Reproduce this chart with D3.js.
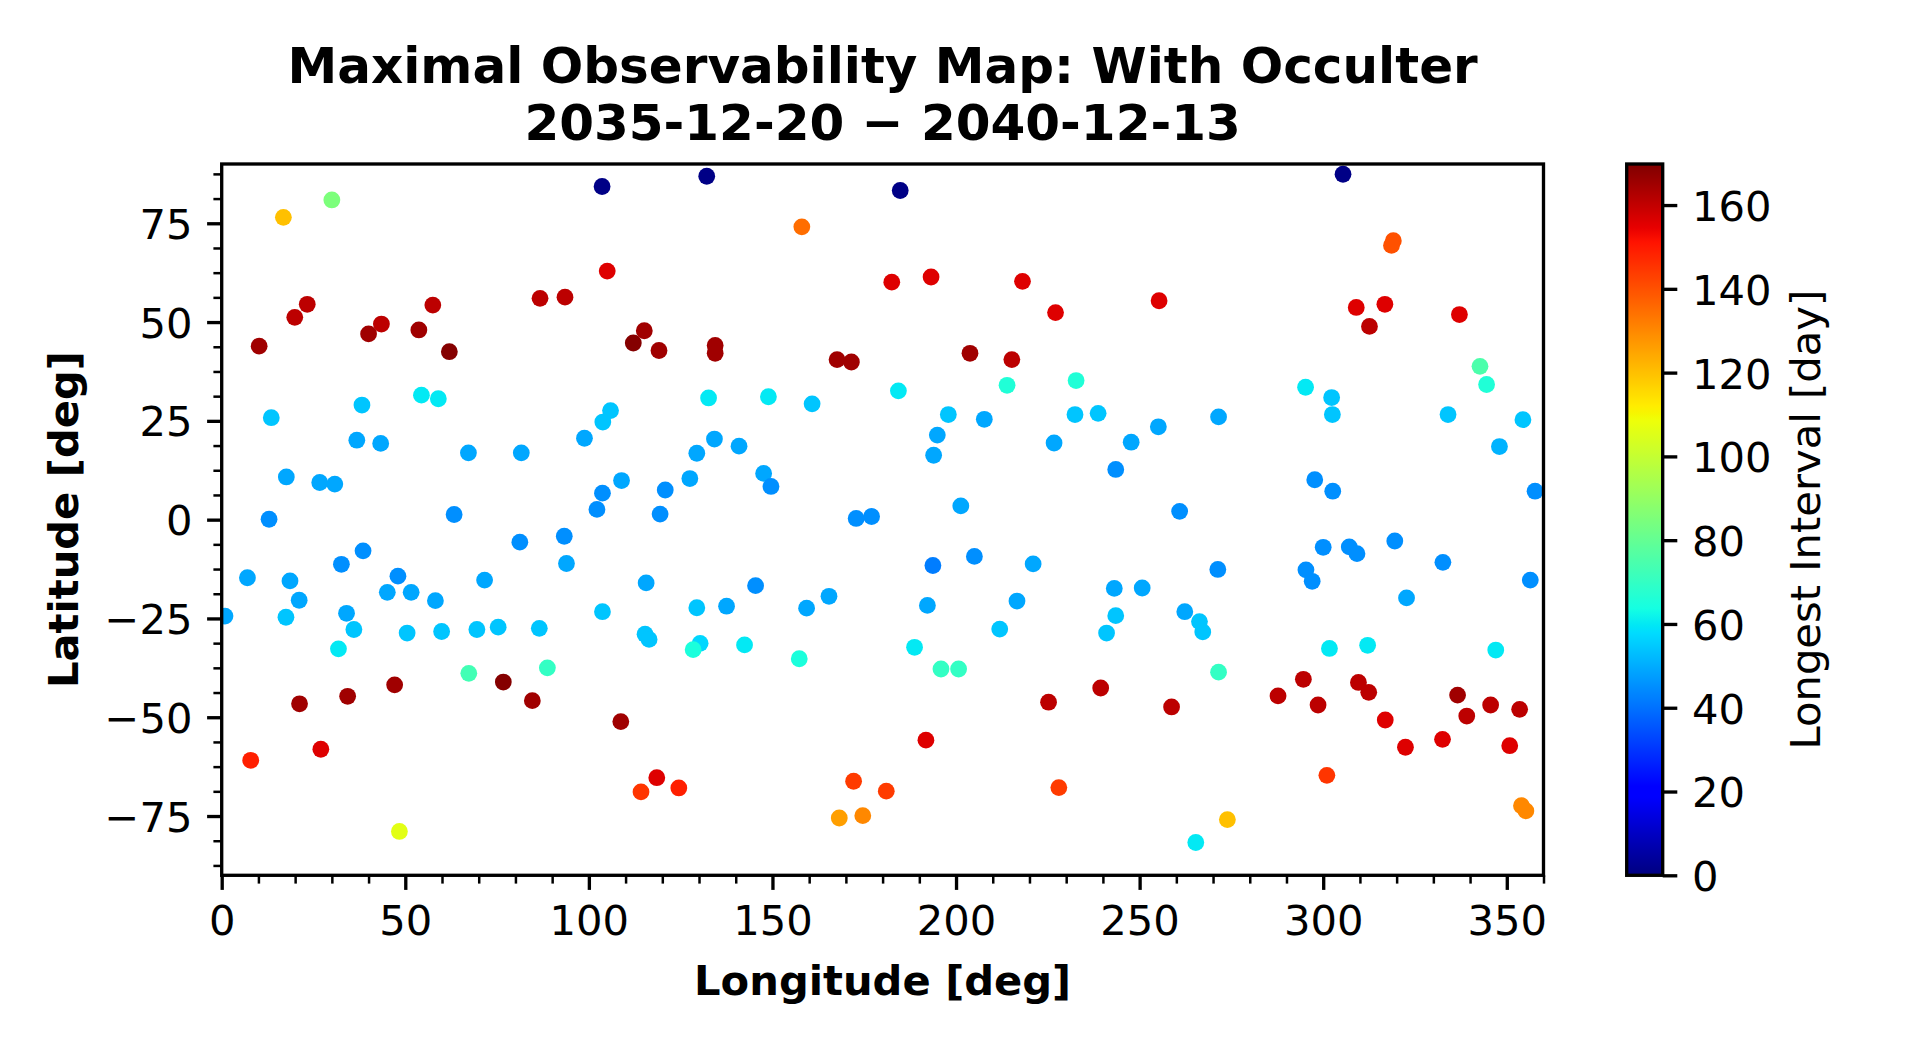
<!DOCTYPE html>
<html>
<head>
<meta charset="utf-8">
<script src="https://cdn.jsdelivr.net/npm/d3@7"></script>
<style>
  html, body { margin: 0; padding: 0; background: #fff; }
  svg { display: block; font-family: "DejaVu Sans", sans-serif; }
</style>
</head>
<body>
<svg id="chart" width="1920" height="1050"></svg>
<script>
// ---- data ----
const lon = [
  16.8, 30.0, 103.6, 105.0, 86.7, 93.5, 23.3, 19.9, 10.2, 43.5, 40.0, 57.5, 53.7, 62.0, 112.1, 115.1,
  13.5, 38.2, 54.4, 59.0, 105.9, 103.8, 36.8, 43.3, 67.2, 81.6, 98.8, 17.6, 26.7, 30.8, 108.9, 103.7,
  102.2, 12.9, 63.3,
  132.1, 184.8, 158.0, 182.5, 193.2, 218.1, 227.1, 119.1, 134.4, 134.4, 167.6, 171.5, 203.8, 215.2,
  213.9, 232.7, 132.6, 148.9, 160.8, 184.3, 197.9, 207.7, 232.4, 194.9, 193.9, 226.7, 134.2, 129.4,
  140.9, 127.5, 147.6, 149.6, 120.8, 119.4, 172.8, 177.0, 201.3,
  305.4, 319.1, 318.6, 255.3, 309.0, 316.8, 312.6, 337.1, 342.7, 344.5, 295.2, 302.3, 302.5, 334.0,
  354.4, 238.7, 255.1, 271.5, 247.7, 243.5, 348.0, 297.7, 302.6, 357.7, 260.9,
  7.0, 18.6, 21.1, 17.5, 0.9, 32.6, 38.5, 34.0, 36.0, 31.8, 48.0, 45.1, 51.6, 58.2, 50.5, 59.9, 71.6,
  81.2, 93.3, 93.9, 69.5, 75.3, 86.5, 103.7, 115.6, 115.3, 116.4, 67.3, 88.7, 76.7, 47.1, 34.3, 21.2,
  84.6, 108.7, 27.0, 7.9, 48.4, 114.2,
  129.4, 137.5, 145.4, 159.3, 165.4, 130.3, 128.4, 142.4, 157.3, 193.7, 205.0, 221.0, 192.2, 216.6,
  211.9, 188.7, 195.9, 200.7, 225.2, 191.8, 118.5, 124.5, 172.1, 181.0, 228.0, 168.2, 174.6,
  243.1, 250.7, 243.5, 241.0, 271.3, 262.3, 266.3, 267.2, 295.3, 297.0, 300.0, 307.1, 309.2, 319.5,
  332.6, 322.7, 356.4, 301.7, 312.1, 347.0, 271.5, 239.4, 258.7, 287.7, 294.6, 298.6, 309.6, 312.4,
  316.9, 322.4, 332.5, 336.6, 339.1, 345.6, 353.5, 350.8, 301.0, 273.9, 265.3, 354.0, 355.2
];
const lat = [
  76.5, 80.9, 84.3, 62.9, 56.0, 56.3, 54.5, 51.2, 43.9, 49.5, 47.0, 54.3, 48.0, 42.5, 44.7, 47.8,
  25.8, 29.0, 31.5, 30.6, 27.6, 24.7, 20.1, 19.3, 16.9, 16.9, 20.6, 10.8, 9.4, 9.0, 9.9, 6.7,
  2.6, 0.1, 1.3,
  86.9, 83.3, 74.1, 60.1, 61.4, 60.3, 52.4, 42.8, 44.1, 42.1, 40.5, 39.9, 42.1, 40.5,
  34.0, 35.2, 30.8, 31.1, 29.3, 32.6, 26.6, 25.4, 26.6, 21.4, 16.3, 19.4, 20.4, 16.8,
  18.6, 10.4, 11.7, 8.4, 7.5, 1.4, 0.3, 0.8, 3.5,
  87.4, 70.6, 69.4, 55.4, 53.7, 54.5, 48.9, 51.9, 38.8, 34.2, 33.5, 30.9, 26.6, 26.6,
  25.3, 26.9, 23.5, 26.0, 19.6, 12.7, 18.5, 10.1, 7.2, 7.2, 2.1,
  -14.7, -15.5, -20.4, -24.7, -24.4, -11.3, -7.9, -23.7, -27.8, -32.7, -14.3, -18.4, -18.4, -20.5, -28.7, -28.3, -15.3,
  -5.7, -4.2, -11.1, -27.8, -27.2, -27.5, -23.3, -16.0, -29.0, -30.3, -38.9, -37.5, -41.1, -41.8, -44.7, -46.6,
  -45.8, -51.1, -58.1, -60.9, -78.9, -68.9,
  -22.3, -21.9, -16.7, -22.4, -19.4, -31.3, -32.9, -31.7, -35.2, -11.6, -9.3, -11.2, -21.7, -20.6,
  -27.7, -32.3, -37.8, -37.8, -46.2, -55.8, -65.3, -67.9, -66.2, -68.7, -67.8, -75.5, -74.9,
  -17.4, -17.3, -24.3, -28.7, -12.6, -23.3, -25.8, -28.4, -12.7, -15.6, -7.0, -6.9, -8.6, -5.4,
  -10.8, -19.8, -15.3, -32.6, -31.8, -33.0, -38.6, -42.6, -47.4, -44.6, -40.4, -46.9, -41.2, -43.7,
  -50.7, -57.6, -55.6, -44.4, -49.7, -46.9, -48.0, -57.2, -64.7, -75.9, -81.7, -72.4, -73.7
];
const interval = [
  120, 85, 1, 156, 161, 161, 161, 161, 165, 161, 165, 161, 165, 169, 169, 165,
  54, 54, 60, 60, 54, 54, 49, 49, 49, 49, 49, 49, 49, 49, 49, 45,
  45, 45, 45,
  1, 1, 135, 156, 156, 156, 156, 165, 165, 165, 165, 165, 165, 161,
  66, 66, 60, 60, 54, 60, 54, 49, 54, 49, 49, 49, 49, 49,
  49, 49, 49, 45, 45, 45, 45, 45, 49,
  1, 140, 140, 156, 156, 156, 161, 156, 75, 66, 60, 54, 54, 54,
  54, 54, 49, 49, 49, 45, 51, 45, 45, 45, 45,
  49, 49, 49, 54, 49, 45, 45, 49, 54, 60, 45, 49, 49, 49, 54, 54, 49,
  45, 45, 49, 54, 54, 54, 54, 49, 54, 54, 73, 70, 169, 165, 165, 165,
  165, 165, 156, 149, 106, 145,
  54, 49, 45, 49, 49, 57, 65, 60, 65, 42, 45, 49, 49, 49,
  54, 60, 70, 70, 161, 156, 156, 149, 144, 144, 144, 126, 130,
  49, 49, 54, 54, 45, 49, 54, 54, 45, 45, 45, 45, 45, 45,
  45, 49, 45, 60, 60, 60, 70, 161, 161, 161, 161, 161, 161, 161,
  156, 156, 156, 165, 161, 161, 161, 156, 145, 120, 60, 130, 130
];
const xTicks = [0, 50, 100, 150, 200, 250, 300, 350];
const yTicks = [-75, -50, -25, 0, 25, 50, 75];
const cbTicks = [0, 20, 40, 60, 80, 100, 120, 140, 160];
const titleLines = ["Maximal Observability Map: With Occulter", "2035-12-20 \u2212 2040-12-13"];
const xLabel = "Longitude [deg]";
const yLabel = "Latitude [deg]";
const cbLabel = "Longest Interval [day]";
const vMax = 169.8;

// ---- layout ----
const L = 221.7, R = 1543.5, T = 164, B = 875.3;
const cbL = 1626.7, cbR = 1662.7;
const FS = 41.67;
const majorW = 3.33, minorW = 2.5, majorLen = 14.6, minorLen = 8.3;

const svg = d3.select("#chart");
const x = d3.scaleLinear().domain([0, 360]).range([L, R]);
const y = d3.scaleLinear().domain([-90, 90]).range([B, T]);
const cy = d3.scaleLinear().domain([0, vMax]).range([B, T]);

// jet colormap (matplotlib segment data)
const jr = d3.scaleLinear().domain([0, 0.35, 0.66, 0.89, 1]).range([0, 0, 1, 1, 0.5]).clamp(true);
const jg = d3.scaleLinear().domain([0, 0.125, 0.375, 0.64, 0.91, 1]).range([0, 0, 1, 1, 0, 0]).clamp(true);
const jb = d3.scaleLinear().domain([0, 0.11, 0.34, 0.65, 1]).range([0.5, 1, 1, 0, 0]).clamp(true);
function jet(v) {
  const t = Math.max(0, Math.min(1, v / vMax));
  return d3.rgb(jr(t) * 255, jg(t) * 255, jb(t) * 255).formatHex();
}

// clip
svg.append("defs").append("clipPath").attr("id", "plotclip")
  .append("rect").attr("x", L).attr("y", T).attr("width", R - L).attr("height", B - T);

// points
const pts = lon.map((d, i) => ({ lon: d, lat: lat[i], v: interval[i] }));
svg.append("g").attr("clip-path", "url(#plotclip)")
  .selectAll("circle").data(pts).join("circle")
  .attr("cx", d => x(d.lon)).attr("cy", d => y(d.lat))
  .attr("r", 8.4).attr("fill", d => jet(d.v));

function styleAxis(g, w, dy) {
  g.select(".domain").remove();
  g.selectAll(".tick line").attr("stroke", "#000").attr("stroke-width", w);
  const t = g.selectAll(".tick text").attr("fill", "#000").style("font-size", FS + "px")
    .style("font-family", "DejaVu Sans");
  if (dy) t.attr("dy", dy);
}

// x axis
const xMinor = d3.range(0, 361, 10).filter(v => v % 50 !== 0);
const gxm = svg.append("g").attr("transform", `translate(0,${B})`)
  .call(d3.axisBottom(x).tickValues(xMinor).tickSize(minorLen).tickFormat(""));
styleAxis(gxm, minorW);
const gx = svg.append("g").attr("transform", `translate(0,${B})`)
  .call(d3.axisBottom(x).tickValues(xTicks).tickSize(majorLen).tickPadding(14.6).tickFormat(d3.format("d")));
styleAxis(gx, majorW, "0.73em");

// y axis
const yMinor = d3.range(-87.5, 90, 6.25).filter(v => Math.abs(v % 25) > 1e-6);
const gym = svg.append("g").attr("transform", `translate(${L},0)`)
  .call(d3.axisLeft(y).tickValues(yMinor).tickSize(minorLen).tickFormat(""));
styleAxis(gym, minorW);
const gy = svg.append("g").attr("transform", `translate(${L},0)`)
  .call(d3.axisLeft(y).tickValues(yTicks).tickSize(majorLen).tickPadding(14.6).tickFormat(d3.format("d")));
styleAxis(gy, majorW, "0.36em");

// spines
svg.append("rect").attr("x", L).attr("y", T).attr("width", R - L).attr("height", B - T)
  .attr("fill", "none").attr("stroke", "#000").attr("stroke-width", majorW);

// colorbar
const grad = svg.select("defs").append("linearGradient").attr("id", "jetgrad")
  .attr("x1", 0).attr("y1", 1).attr("x2", 0).attr("y2", 0);
d3.range(0, 257).forEach(i => {
  grad.append("stop").attr("offset", i / 256).attr("stop-color", jet(vMax * i / 256));
});
svg.append("rect").attr("x", cbL).attr("y", T).attr("width", cbR - cbL).attr("height", B - T)
  .attr("fill", "url(#jetgrad)");
const gc = svg.append("g").attr("transform", `translate(${cbR},0)`)
  .call(d3.axisRight(cy).tickValues(cbTicks).tickSize(majorLen).tickPadding(14.6).tickFormat(d3.format("d")));
styleAxis(gc, majorW, "0.37em");
svg.append("rect").attr("x", cbL).attr("y", T).attr("width", cbR - cbL).attr("height", B - T)
  .attr("fill", "none").attr("stroke", "#000").attr("stroke-width", majorW);

// title
const cx = (L + R) / 2;
svg.append("text").attr("x", cx).attr("y", 83).attr("text-anchor", "middle")
  .style("font-size", "50px").style("font-weight", "bold").text(titleLines[0]);
svg.append("text").attr("x", cx).attr("y", 140).attr("text-anchor", "middle")
  .style("font-size", "50px").style("font-weight", "bold").text(titleLines[1]);

// axis labels
svg.append("text").attr("x", cx).attr("y", 995).attr("text-anchor", "middle")
  .style("font-size", FS + "px").style("font-weight", "bold").text(xLabel);
svg.append("text").attr("transform", `translate(78,${(T + B) / 2}) rotate(-90)`).attr("text-anchor", "middle")
  .style("font-size", FS + "px").style("font-weight", "bold").text(yLabel);
svg.append("text").attr("transform", `translate(1820,${(T + B) / 2}) rotate(-90)`).attr("text-anchor", "middle")
  .style("font-size", FS + "px").text(cbLabel);
</script>
</body>
</html>
